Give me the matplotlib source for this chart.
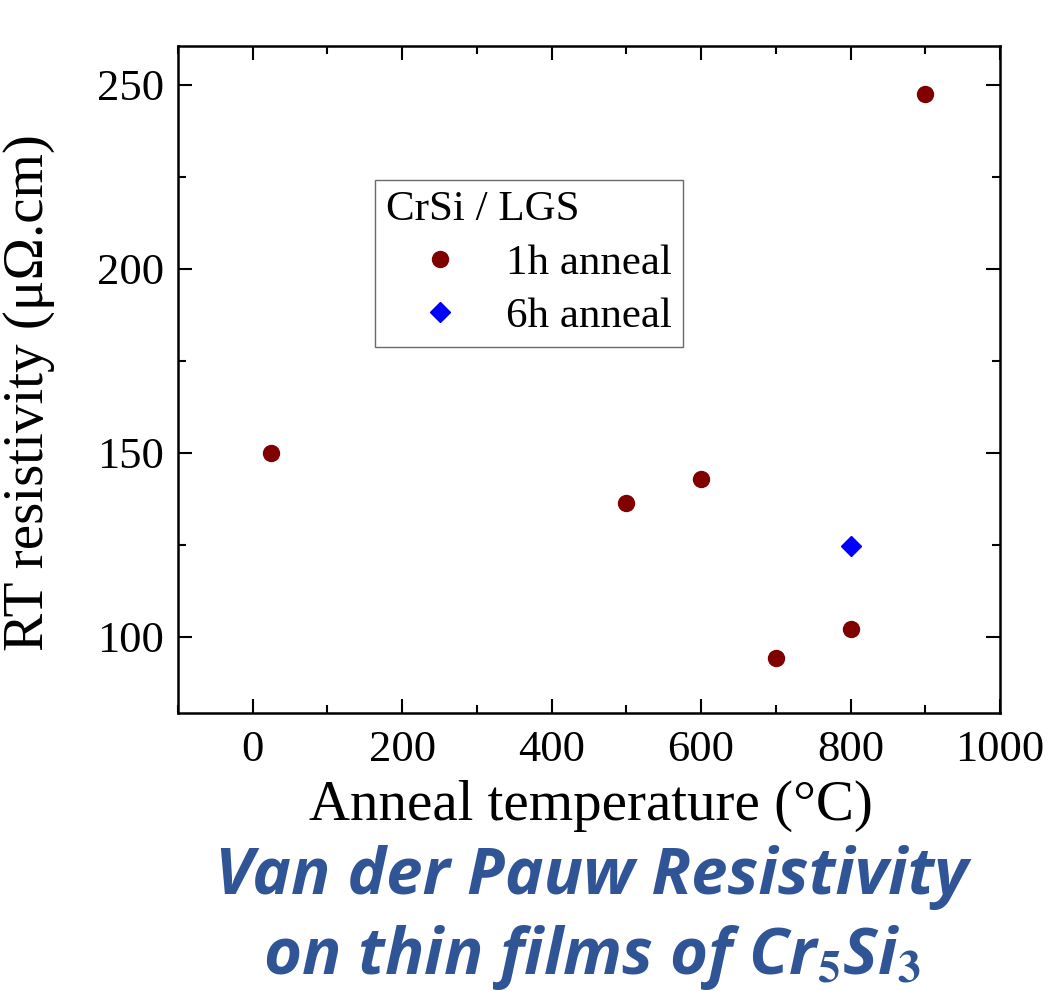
import matplotlib
matplotlib.use("Agg")
import matplotlib.pyplot as plt
from matplotlib.ticker import MultipleLocator

# Data
temp_1h = [25, 500, 600, 700, 800, 900]
res_1h = [150, 136.3, 143, 94.2, 102, 247.6]
temp_6h = [800]
res_6h = [124.7]

xlabel = "Anneal temperature (°C)"
ylabel = "RT resistivity (μΩ.cm)"
legend_title = "CrSi / LGS"
labels = ["1h anneal", "6h anneal"]

plt.rcParams['font.family'] = ['Liberation Serif', 'DejaVu Serif']
plt.rcParams['mathtext.fontset'] = 'stix'

fig = plt.figure(figsize=(10.48, 9.91), dpi=100)
ax = fig.add_axes([178/1048, 1-713/991, (1000-178)/1048, (713-46)/991])

ax.plot(temp_1h, res_1h, 'o', color='#800000', markersize=11.5, label=labels[0], linestyle='none')
ax.plot(temp_6h, res_6h, 'D', color='#0000FF', markersize=10.5, label=labels[1], linestyle='none')

ax.set_xlim(-100, 1000)
ax.set_ylim(79.3, 260.6)
ax.xaxis.set_major_locator(MultipleLocator(200))
ax.xaxis.set_minor_locator(MultipleLocator(100))
ax.yaxis.set_major_locator(MultipleLocator(50))
ax.yaxis.set_minor_locator(MultipleLocator(25))
ax.tick_params(which='both', direction='in', top=True, right=True, labelsize=32, width=1.5)
ax.tick_params(which='major', length=10)
ax.tick_params(which='minor', length=6)
ax.tick_params(axis='x', pad=12)
ax.tick_params(axis='y', pad=10)
for s in ax.spines.values():
    s.set_linewidth(1.8)

ax.set_xlabel(xlabel, fontsize=41)
ax.set_ylabel(ylabel, fontsize=41)
ax.xaxis.set_label_coords(0.502, -0.100)
ax.yaxis.set_label_coords(-0.150, 0.481)

leg = ax.legend(title=legend_title, loc='upper left', bbox_to_anchor=((375-178)/822, 1-(180-46)/667),
                fontsize=31, title_fontsize=31, frameon=True, fancybox=False, edgecolor='#444444',
                borderpad=0.25, handletextpad=0.3, labelspacing=0.33, handlelength=2.5, borderaxespad=0)
leg._legend_box.align = "left"
leg.get_frame().set_linewidth(1.0)

blue = '#2F5597'
fig.text(592/1048, 1-878/991, "Van der Pauw Resistivity", ha='center', va='center',
         fontsize=47, color=blue, fontweight='bold', fontstyle='italic', family=['Open Sans', 'Noto Sans', 'DejaVu Sans'])
fig.text(592/1048, 1-958/991, "on thin films of Cr$_\\mathbf{5}$Si$_\\mathbf{3}$", ha='center', va='center',
         fontsize=47, color=blue, fontweight='bold', fontstyle='italic', family=['Open Sans', 'Noto Sans', 'DejaVu Sans'])

fig.savefig("out.png", dpi=100)
